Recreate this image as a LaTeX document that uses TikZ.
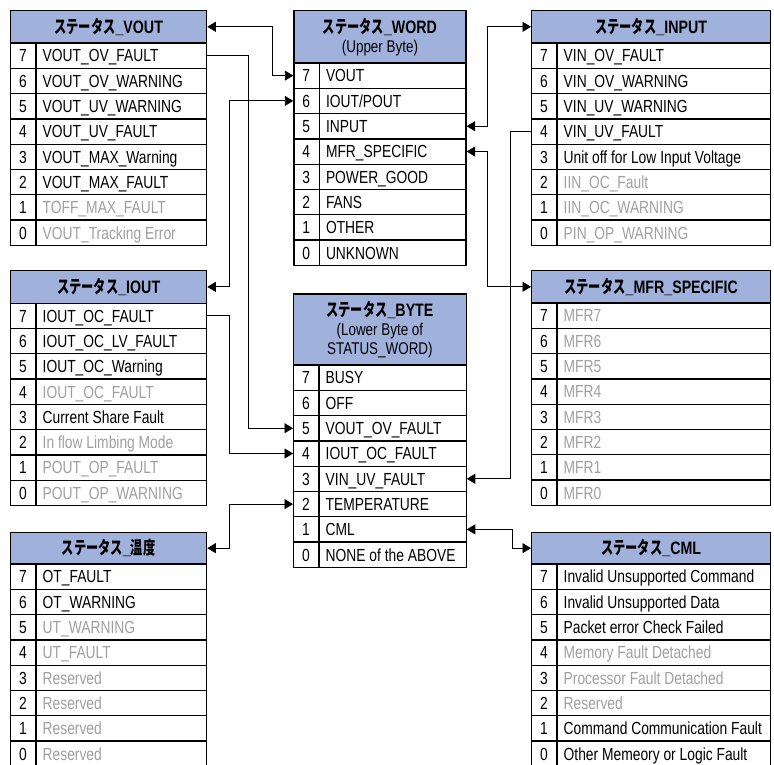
\documentclass[tikz,border=0pt]{standalone}
\usepackage{fontspec}
\setmainfont{Liberation Sans}[FakeStretch=0.79]
\newfontfamily\cjk{Noto Sans CJK JP}[FakeStretch=0.68]
\usetikzlibrary{arrows.meta,calc}
\definecolor{hdrblue}{RGB}{160,178,220}
\definecolor{dim}{RGB}{160,160,160}
\tikzset{
  hdrbox/.style={draw=black, fill=hdrblue, line width=1.3pt, inner sep=0pt,
    font=\bfseries\fontsize{18}{19}\selectfont, align=center},
  rowbox/.style={draw=black, line width=1.3pt, inner sep=0pt, fill=white},
  numtxt/.style={font=\fontsize{17.5}{19}\selectfont, inner sep=0pt, anchor=base},
  rowtxt/.style={font=\fontsize{17.5}{19}\selectfont, inner sep=0pt, anchor=base west},
  conn/.style={line width=0.9pt, >={Triangle[length=8.5pt,width=10pt]}},
}
\newcommand\mktable[6]{%
  \node[hdrbox, anchor=north west, minimum width={#3-#2}, minimum height={#5}] (#1h) at (#2,#4) {#6};
}
\newcommand\mkrows[5]{%
  \foreach \rowbit/\rowtext/\rowcol [count=\ri from 0] in {#5} {
    \node[rowbox, anchor=north west, minimum width={#3-#2}, minimum height=25.3] (#1\rowbit) at (#2,{#4+\ri*25.3}) {};
    \draw[line width=1.3pt] ($(#1\rowbit.north west)+(26,0)$) -- ($(#1\rowbit.south west)+(26,0)$);
    \node[numtxt] (#1\rowbit n) at ($(#1\rowbit.west)+(13,6.3)$) {\rowbit};
    \node[rowtxt, text=\rowcol] (#1\rowbit t) at ($(#1\rowbit.west)+(32.5,6.3)$) {\rowtext};
  }
}
\newcommand\sts{{\cjk ステータス}}
\begin{document}
\begin{tikzpicture}[x=1pt,y=-1pt]
\useasboundingbox (0,0) rectangle (774,764);
% VOUT
\mktable{vout}{10}{206}{10}{32.3}{\sts\_VOUT}
\mkrows{vout}{10}{206}{42.3}{7/VOUT\_OV\_FAULT/black, 6/VOUT\_OV\_WARNING/black, 5/VOUT\_UV\_WARNING/black, 4/VOUT\_UV\_FAULT/black, 3/VOUT\_MAX\_Warning/black, 2/VOUT\_MAX\_FAULT/black, 1/TOFF\_MAX\_FAULT/dim, 0/VOUT\_Tracking Error/dim}
% WORD
\mktable{word}{293.3}{465.3}{10}{52.3}{\sts\_WORD\\{\mdseries\fontsize{17}{19}\selectfont (Upper Byte)}}
\mkrows{word}{293.3}{465.3}{62.3}{7/VOUT/black, 6/{IOUT/POUT}/black, 5/INPUT/black, 4/MFR\_SPECIFIC/black, 3/POWER\_GOOD/black, 2/FANS/black, 1/OTHER/black, 0/UNKNOWN/black}
% INPUT
\mktable{input}{531}{770}{10}{32.3}{\sts\_INPUT}
\mkrows{input}{531}{770}{42.3}{7/VIN\_OV\_FAULT/black, 6/VIN\_OV\_WARNING/black, 5/VIN\_UV\_WARNING/black, 4/VIN\_UV\_FAULT/black, 3/Unit off for Low Input Voltage/black, 2/IIN\_OC\_Fault/dim, 1/IIN\_OC\_WARNING/dim, 0/PIN\_OP\_WARNING/dim}
% IOUT
\mktable{iout}{10}{206}{270}{32.5}{\sts\_IOUT}
\mkrows{iout}{10}{206}{302.5}{7/IOUT\_OC\_FAULT/black, 6/IOUT\_OC\_LV\_FAULT/black, 5/IOUT\_OC\_Warning/black, 4/IOUT\_OC\_FAULT/dim, 3/Current Share Fault/black, 2/In flow Limbing Mode/dim, 1/POUT\_OP\_FAULT/dim, 0/POUT\_OP\_WARNING/dim}
% BYTE
\mktable{byte}{293}{465.5}{293.3}{71}{\sts\_BYTE\\{\mdseries\fontsize{17}{19}\selectfont (Lower Byte of}\\{\mdseries\fontsize{17}{19}\selectfont STATUS\_WORD)}}
\mkrows{byte}{293}{465.5}{364.3}{7/BUSY/black, 6/OFF/black, 5/VOUT\_OV\_FAULT/black, 4/IOUT\_OC\_FAULT/black, 3/VIN\_UV\_FAULT/black, 2/TEMPERATURE/black, 1/CML/black, 0/NONE of the ABOVE/black}
% MFR
\mktable{mfr}{531}{770}{270}{32.3}{\sts\_MFR\_SPECIFIC}
\mkrows{mfr}{531}{770}{302.3}{7/MFR7/dim, 6/MFR6/dim, 5/MFR5/dim, 4/MFR4/dim, 3/MFR3/dim, 2/MFR2/dim, 1/MFR1/dim, 0/MFR0/dim}
% TEMP
\mktable{temp}{10}{206}{531.7}{31.6}{\sts\_{\cjk 温度}}
\mkrows{temp}{10}{206}{563.3}{7/OT\_FAULT/black, 6/OT\_WARNING/black, 5/UT\_WARNING/dim, 4/UT\_FAULT/dim, 3/Reserved/dim, 2/Reserved/dim, 1/Reserved/dim, 0/Reserved/dim}
% CML
\mktable{cml}{531}{770}{531.7}{31.6}{\sts\_CML}
\mkrows{cml}{531}{770}{563.3}{7/Invalid Unsupported Command/black, 6/Invalid Unsupported Data/black, 5/Packet error Check Failed/black, 4/Memory Fault Detached/dim, 3/Processor Fault Detached/dim, 2/Reserved/dim, 1/Command Communication Fault/black, 0/Other Memeory or Logic Fault/black}
% connectors
\draw[conn,<->] (vouth.east) -| ($(word7.west)+(-21,0)$) -- (word7.west);
\draw[conn,<->] (iouth.east) -| ($(word6.west)+(-64,0)$) -- (word6.west);
\draw[conn,->] (vout7.east) -| ($(byte5.west)+(-44.5,0)$) -- (byte5.west);
\draw[conn,->] (iout7.east) -| ($(byte4.west)+(-63.7,0)$) -- (byte4.west);
\draw[conn,<->] (temph.east) -| ($(byte2.west)+(-63.7,0)$) -- (byte2.west);
\draw[conn,<->] (word5.east) -| ($(inputh.west)+(-44,0)$) -- (inputh.west);
\draw[conn,<->] (word4.east) -| ($(mfrh.west)+(-44,0)$) -- (mfrh.west);
\draw[conn,->] (input4.west) -| ($(byte3.east)+(44,0)$) -- (byte3.east);
\draw[conn,<->] (byte1.east) -| ($(cmlh.west)+(-19,0)$) -- (cmlh.west);
\end{tikzpicture}
\end{document}
